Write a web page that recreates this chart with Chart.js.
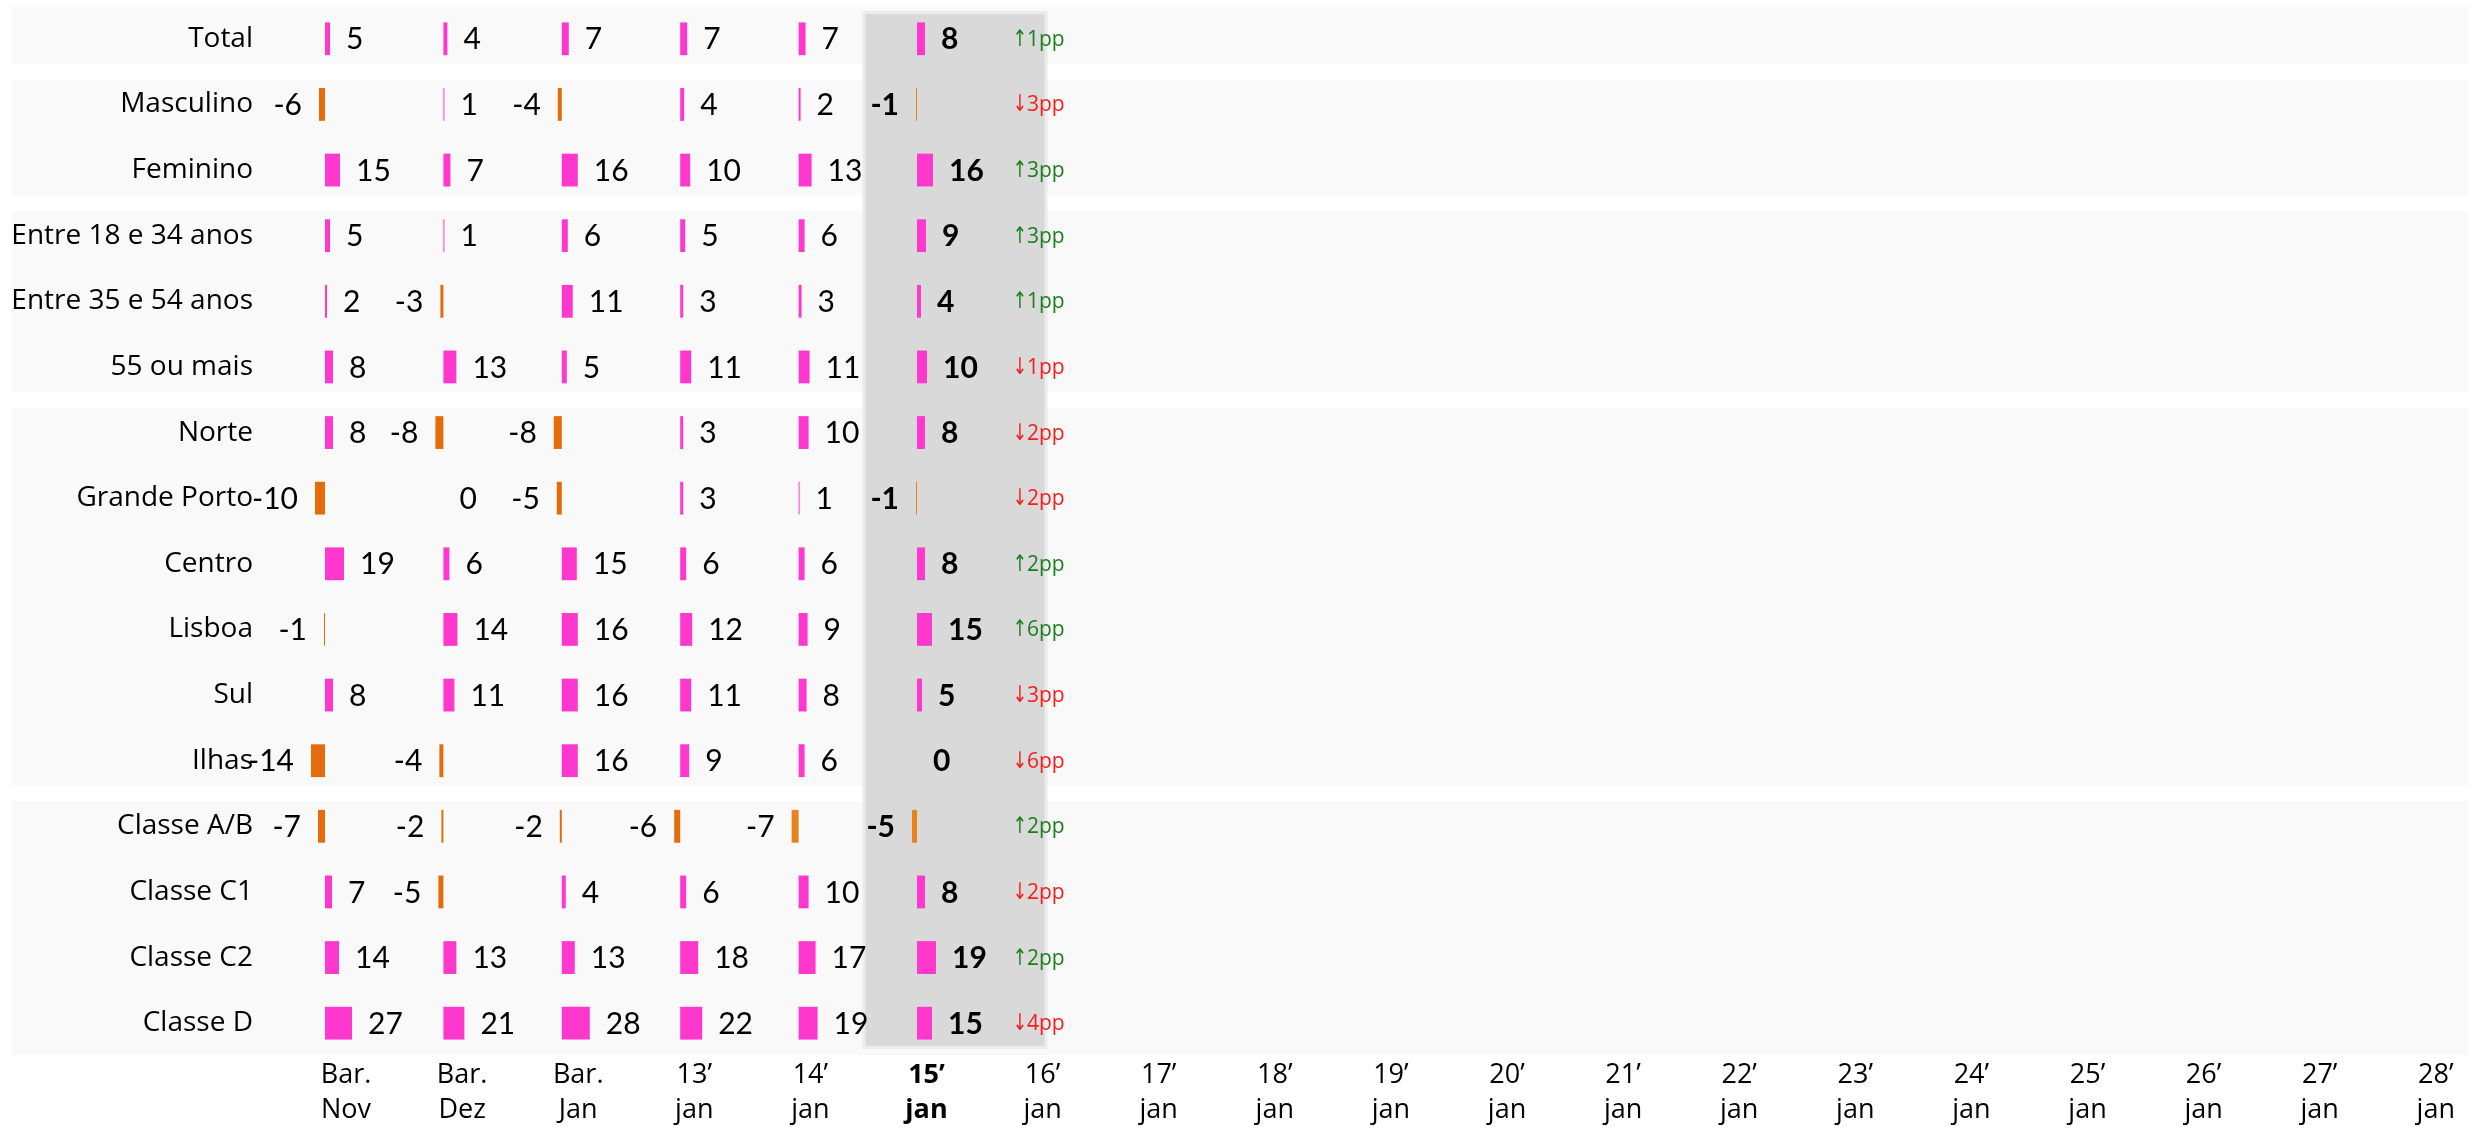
<!DOCTYPE html>
<html>
<head>
<meta charset="utf-8">
<script src="https://cdn.jsdelivr.net/npm/chart.js@4.4.1/dist/chart.umd.min.js"></script>
<style>
  html, body { margin: 0; padding: 0; background: #fff; }
  #wrap { width: 2479px; height: 1128px; position: relative; }
</style>
</head>
<body>
<div id="wrap"><canvas id="chart"></canvas></div>
<script>
// Rows (segments) and periods
const rowLabels = [
    "Total",
    "Masculino", "Feminino",
    "Entre 18 e 34 anos", "Entre 35 e 54 anos", "55 ou mais",
    "Norte", "Grande Porto", "Centro", "Lisboa", "Sul", "Ilhas",
    "Classe A/B", "Classe C1", "Classe C2", "Classe D",
];
// groups of rows that share a background band (first, last index)
const rowGroups = [[0, 0], [1, 2], [3, 5], [6, 11], [12, 15]];

const periodLabels = [
    ["Bar.", "Nov"], ["Bar.", "Dez"], ["Bar.", "Jan"],
    ["13’", "jan"], ["14’", "jan"], ["15’", "jan"], ["16’", "jan"],
    ["17’", "jan"], ["18’", "jan"], ["19’", "jan"], ["20’", "jan"],
    ["21’", "jan"], ["22’", "jan"], ["23’", "jan"], ["24’", "jan"],
    ["25’", "jan"], ["26’", "jan"], ["27’", "jan"], ["28’", "jan"],
];
const currentPeriod = 5; // 15' jan, highlighted

// values per period, one entry per row
const barNov = [5, -6, 15, 5, 2, 8, 8, -10, 19, -1, 8, -14, -7, 7, 14, 27];
const barDez = [4, 1, 7, 1, -3, 13, -8, 0, 6, 14, 11, -4, -2, -5, 13, 21];
const barJan = [7, -4, 16, 6, 11, 5, -8, -5, 15, 16, 16, 16, -2, 4, 13, 28];
const jan13 = [7, 4, 10, 5, 3, 11, 3, 3, 6, 12, 11, 9, -6, 6, 18, 22];
const jan14 = [7, 2, 13, 6, 3, 11, 10, 1, 6, 9, 8, 6, -7, 10, 17, 19];
const jan15 = [8, -1, 16, 9, 4, 10, 8, -1, 8, 15, 5, 0, -5, 8, 19, 15];
const series = [barNov, barDez, barJan, jan13, jan14, jan15];

// change vs previous day, in pp
const ppChange = [1, -3, 3, 3, 1, -1, -2, -2, 2, 6, -3, -6, 2, -2, 2, -4];

// colours
const PINK = "#ff38cd";
const negColors = ["#e46c0a", "#e46c0a", "#e46c0a", "#e46c0a", "#e8821c", "#e8821c"];

// layout: x scale is in pixels of the plot area (1 unit of value = 1px)
const plotWidth = 2205;
const tickStart = 81, tickStep = 116.1;
const zeroStart = 60, zeroStep = 118.4;
const tickAt = (i) => tickStart + tickStep * i;
const zeroAt = (k) => zeroStart + zeroStep * k;

const labelFont = "'Open Sans', 'Noto Sans', sans-serif";
const valueFont = "Lato, 'Noto Sans', sans-serif";
const arrowFont = "'DejaVu Sans', sans-serif";

const datasets = series.map((vals, k) => ({
    label: periodLabels[k].join(" "),
    data: vals.map((v) => [zeroAt(k), zeroAt(k) + v]),
    backgroundColor: vals.map((v) => (v < 0 ? negColors[k] : PINK)),
    borderWidth: 0,
    barPercentage: 0.5,
    categoryPercentage: 1,
    grouped: false,
}));

// background bands + highlighted column
const backdropPlugin = {
    id: "backdrop",
    beforeDraw(chart) {
        const { ctx, chartArea, scales } = chart;
        const y = scales.y;
        const x = scales.x;
        const step = y.getPixelForValue(1) - y.getPixelForValue(0);
        ctx.save();
        ctx.fillStyle = "#f9f9f9";
        rowGroups.forEach(([a, b]) => {
            const top = a === 0 ? chartArea.top + 1 : y.getPixelForValue(a) - step / 2 + 8;
            const bottom = b === rowLabels.length - 1
                ? chartArea.bottom - 1
                : y.getPixelForValue(b) + step / 2 - 8;
            ctx.fillRect(12, top, chartArea.right - 14, bottom - top);
        });
        const left = x.getPixelForValue(tickAt(currentPeriod)) - tickStep / 2 - 3;
        const right = x.getPixelForValue(tickAt(currentPeriod + 1)) + 2;
        const top = chartArea.top + 8;
        const bottom = chartArea.bottom - 10;
        ctx.fillStyle = "#ececec";
        ctx.fillRect(left - 3, top - 3, right - left + 6, bottom - top + 6);
        ctx.fillStyle = "#d9d9d9";
        ctx.fillRect(left, top, right - left, bottom - top);
        ctx.restore();
    },
};

// value labels next to the bars, plus the pp change labels
const labelPlugin = {
    id: "valueLabels",
    afterDatasetsDraw(chart) {
        const { ctx, scales } = chart;
        ctx.save();
        ctx.textBaseline = "middle";
        series.forEach((vals, k) => {
            const meta = chart.getDatasetMeta(k);
            const bold = k === currentPeriod;
            ctx.font = (bold ? "bold " : "") + "30px " + valueFont;
            ctx.fillStyle = "#000";
            meta.data.forEach((bar, j) => {
                const v = vals[j];
                const lo = Math.min(bar.x, bar.base);
                const hi = Math.max(bar.x, bar.base);
                if (v < 0) {
                    ctx.textAlign = "right";
                    ctx.fillText(String(v), lo - 17, bar.y + 1);
                } else {
                    ctx.textAlign = "left";
                    ctx.fillText(String(v), hi + 16, bar.y + 1);
                }
            });
        });
        // pp change: arrow and text drawn as one centred label
        const cx = scales.x.getPixelForValue(tickAt(currentPeriod + 1)) - 4;
        ctx.textAlign = "left";
        ppChange.forEach((d, j) => {
            const py = scales.y.getPixelForValue(j) + 1;
            const arrow = d >= 0 ? "↑" : "↓";
            const txt = Math.abs(d) + "pp";
            ctx.font = "23px " + arrowFont;
            const aw = ctx.measureText(arrow).width * 0.75;
            ctx.font = "21px " + labelFont;
            const tw = ctx.measureText(txt).width;
            const x0 = cx - (aw + tw) / 2;
            ctx.fillStyle = d >= 0 ? "#1a7f1a" : "#f61c1c";
            ctx.font = "23px " + arrowFont;
            ctx.save();
            ctx.translate(x0, py);
            ctx.scale(0.75, 1);
            ctx.fillText(arrow, 0, 0);
            ctx.restore();
            ctx.font = "21px " + labelFont;
            ctx.fillText(txt, x0 + aw, py);
        });
        ctx.restore();
    },
};

new Chart(document.getElementById("chart"), {
    type: "bar",
    data: { labels: rowLabels, datasets },
    plugins: [backdropPlugin, labelPlugin],
    options: {
        indexAxis: "y",
        responsive: true,
        maintainAspectRatio: false,
        animation: false,
        layout: { padding: { top: 6, right: 9, bottom: 0, left: 0 } },
        plugins: {
            legend: { display: false },
            tooltip: { enabled: false },
        },
        scales: {
            y: {
                type: "category",
                grid: { display: false, drawTicks: false },
                border: { display: false },
                ticks: {
                    color: "#000",
                    padding: 12,
                    font: { family: labelFont, size: 28 },
                },
                afterFit(scale) {
                    scale.width = 265;
                    scale.paddingTop = 0;
                    scale.paddingBottom = 0;
                },
            },
            x: {
                type: "linear",
                min: 0,
                max: plotWidth,
                grid: { display: false, drawTicks: false },
                border: { display: false },
                afterBuildTicks(scale) {
                    scale.ticks = periodLabels.map((_, i) => ({ value: tickAt(i) }));
                },
                ticks: {
                    autoSkip: false,
                    maxRotation: 0,
                    color: "#000",
                    padding: 1,
                    font: (c) => ({
                        family: labelFont,
                        size: 27,
                        weight: c.index === currentPeriod ? "bold" : "normal",
                        lineHeight: 1.32,
                    }),
                    callback: (value, index) => periodLabels[index],
                },
                afterFit(scale) {
                    scale.height = 72;
                    scale.paddingLeft = 0;
                    scale.paddingRight = 0;
                },
            },
        },
    },
});
</script>
</body>
</html>
